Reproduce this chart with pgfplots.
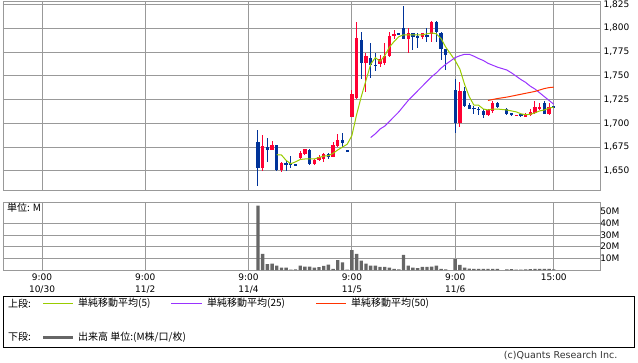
\documentclass[border=0pt]{standalone}
\usepackage{pgfplots}
\pgfplotsset{compat=1.18}
\usepackage{pgfplotstable}
\usepackage{fontspec}
\setmainfont{DejaVu Sans}
\newfontfamily\jp{Noto Sans CJK JP}
\definecolor{cup}{HTML}{FF0033}
\definecolor{cdn}{HTML}{003399}
\definecolor{mafivec}{HTML}{99CC00}
\definecolor{matwfc}{HTML}{9933FF}
\definecolor{mafifc}{HTML}{FF3300}
\definecolor{gridc}{HTML}{999999}
\definecolor{volc}{HTML}{666666}

\pgfplotstableread{
i o h l c
47 1653.4 1687.7 1650 1676.5
49 1672.3 1681.4 1672 1677.2
51 1651 1659 1649 1658.7
55 1664 1671 1663 1669
56 1667.4 1673 1666.7 1673
58 1657 1662 1656.5 1661.5
59 1661 1666.7 1660 1665
60 1663 1669 1659.6 1667.8
62 1665 1680.7 1665 1677
63 1676.5 1688.4 1675.5 1682.5
66 1707 1735 1707 1730.8
67 1727 1806.4 1725.2 1790
69 1763.7 1774 1733 1770.7
72 1762 1772 1759 1768
73 1763 1784 1761 1770.7
74 1770.7 1796 1770 1791.7
75 1791.7 1798 1789 1793.5
78 1788.4 1800 1774 1794.5
81 1790.3 1795 1788.4 1794.5
83 1793.5 1807.6 1785 1806.9
89 1700 1743.7 1696.5 1734
95 1708.7 1714.7 1707.6 1714
96 1713 1723.8 1710.5 1721
101 1708.5 1709 1708 1708.7
103 1707 1710.5 1706.3 1709.8
104 1709 1714.7 1708 1712.3
105 1710.5 1723.8 1710 1717.5
106 1714.7 1721.7 1713.6 1717.5
108 1709.8 1721.6 1708.7 1717.5
}\up

\pgfplotstableread{
i o h l c
46 1680 1693 1634.5 1653.4
48 1675 1685 1659 1672.3
50 1677 1677 1649.6 1651
52 1658 1660 1650 1657
53 1657.5 1666 1653 1657
54 1657 1657.5 1655 1655.7
57 1672 1673 1655.7 1657
61 1667.8 1669 1662 1665
64 1682.5 1690 1675.5 1679.7
65 1671 1671 1671 1671
68 1787.5 1796 1746.6 1763.7
70 1769 1784 1748 1761
71 1761.5 1774 1755 1760
76 1794.5 1795 1793 1793.5
77 1800 1823.7 1788.4 1788.4
79 1794.5 1795 1776.7 1790.3
80 1791.7 1795 1779 1790.3
82 1792.8 1800 1785 1791
84 1806.9 1807.6 1785.7 1795.6
85 1795.2 1796.3 1766.5 1777.7
86 1778.6 1778.6 1755.9 1771.8
88 1735 1747 1689.5 1700
90 1734 1738.5 1717.5 1718.5
91 1719 1721.6 1714.7 1714.7
92 1716.4 1718 1709.8 1714.7
93 1715 1717.5 1708.7 1714.5
94 1713.3 1714.7 1706 1708.7
97 1721 1722.7 1716.4 1717.5
99 1715.4 1716.4 1708.7 1709.4
100 1710.5 1711 1707.6 1708.7
102 1709 1709.5 1707 1708.5
107 1721 1723.8 1709.5 1709.8
109 1717.5 1718 1716.8 1716.8
}\down

\pgfplotstableread{
i v
50 1667
51 1666.7
52 1661
53 1657.5
54 1659.5
55 1662
56 1662.5
57 1662.5
58 1662.5
59 1664
60 1665.5
61 1666
62 1668.5
63 1672
64 1675
65 1678
66 1687
67 1709
68 1728
69 1745
70 1762
71 1769
72 1765
73 1771
74 1780
75 1786
76 1791
77 1793
78 1793
79 1793
80 1793
81 1793
82 1794
83 1795
84 1794
85 1789
86 1780
88 1766
89 1757
90 1741
91 1728
92 1719
93 1719
94 1715
95 1714
96 1715
97 1715
99 1714
100 1713
101 1712
102 1710
103 1709
104 1709.5
105 1711
106 1713
107 1714
108 1716
109 1717
}\mafive

\pgfplotstableread{
i v
70 1685
71 1689
72 1694
73 1697
74 1702
75 1707
76 1712
77 1718
78 1724
79 1729
80 1734
81 1739
82 1744
83 1749
84 1753
85 1758
86 1762
88 1769
89 1771
90 1772.5
91 1772.5
92 1770.5
93 1768
94 1766
95 1763
96 1761
97 1759
99 1756
100 1753
101 1749.5
102 1746
103 1743
104 1739
105 1736
106 1732
107 1728
108 1724
109 1720
}\matwentyfive

\pgfplotstableread{
i v
95 1724
96 1725
97 1726
99 1727.5
100 1728.5
101 1729.5
102 1730.5
103 1731.5
104 1732.5
105 1733.5
106 1735
107 1736.5
108 1737.5
109 1738
}\mafifty

\pgfplotstableread{
i v
46 55
47 13.7
48 5.1
49 5.4
50 3.7
51 2
52 2
53 0.3
54 0.5
55 3.7
56 2.8
57 2.8
58 2
59 2.5
60 3.5
61 4.5
62 1
63 8.5
64 6.5
65 0.3
66 17
67 13.7
68 8
69 5.4
70 3.7
71 3.7
72 2.6
73 2.6
74 2
75 0.9
76 0.5
77 13
78 3.7
79 2
80 1.7
81 2.6
82 2.6
83 2.9
84 3.7
85 0.9
86 0.5
88 9.4
89 4.3
90 2
91 1.2
92 1
93 1
94 1
95 1
96 1
97 1
99 0.6
100 0.8
101 0.4
102 0.4
103 0.6
104 0.8
105 1
106 1
107 1
108 1
109 0.5
}\vol

\pgfplotsset{
  panel/.style={
    scale only axis, anchor=north west, width=597pt,
    xmin=-8.31, xmax=118.85,
    axis line style={gridc, line width=0.8pt},
    xtick={0,22,44,66,88,109},
    grid=major, major grid style={gridc, line width=0.8pt},
    major tick length=0pt,
    yticklabel pos=right,
    tick label style={font=\fontsize{9}{12}\selectfont},
    /pgf/number format/1000 sep={,},
    /pgf/number format/assume math mode=true,
    clip=true,
  },
  wick/.style={draw=none, mark=none, forget plot,
    error bars/.cd, y dir=both, y explicit, error mark=none,
    error bar style={draw=#1, line width=1pt}},
  body/.style={draw=none, mark=none, forget plot,
    error bars/.cd, y dir=both, y explicit, error mark=none,
    error bar style={draw=#1, line width=3.3pt}},
}

\begin{document}
\begin{tikzpicture}
\path[use as bounding box] (0pt,0pt) rectangle (638pt,-362pt);

\begin{axis}[panel, at={(3pt,-1pt)}, height=189pt,
  ymin=1629.9, ymax=1828.5,
  ytick={1650,1675,...,1825},
  xticklabels={},
]
\addplot[wick=cup] table[x=i, y expr={(\thisrow{h}+\thisrow{l})/2}, y error expr={max((\thisrow{h}-\thisrow{l})/2,0.4)}] {\up};
\addplot[wick=cdn] table[x=i, y expr={(\thisrow{h}+\thisrow{l})/2}, y error expr={max((\thisrow{h}-\thisrow{l})/2,0.4)}] {\down};
\addplot[body=cup] table[x=i, y expr={(\thisrow{o}+\thisrow{c})/2}, y error expr={max(abs(\thisrow{c}-\thisrow{o})/2,0.55)}] {\up};
\addplot[body=cdn] table[x=i, y expr={(\thisrow{o}+\thisrow{c})/2}, y error expr={max(abs(\thisrow{c}-\thisrow{o})/2,0.55)}] {\down};
\addplot[draw=mafivec, line width=1pt, mark=none] table[x=i, y=v] {\mafive};
\addplot[draw=matwfc, line width=1pt, mark=none] table[x=i, y=v] {\matwentyfive};
\addplot[draw=mafifc, line width=1pt, mark=none] table[x=i, y=v] {\mafifty};
\end{axis}

\begin{axis}[panel, at={(3pt,-202pt)}, height=68pt,
  ymin=0, ymax=58.2,
  ytick={10,20,30,40},
  yticklabels={10M,20M,30M,40M},
  extra y ticks={50}, extra y tick labels={50M},
  extra y tick style={grid=none},
  yticklabel style={anchor=east, xshift=23pt},
  xticklabels={{9:00\\10/30},{9:00\\11/2},{9:00\\11/4},{9:00\\11/5},{9:00\\11/6},{15:00}},
  xticklabel style={align=center},
]
\addplot[ybar, bar width=3.4pt, bar shift=0pt, fill=volc, draw=none] table[x=i, y=v] {\vol};
\end{axis}

\node[anchor=west, inner sep=0pt, font=\jp\fontsize{10}{12}\selectfont] at (7pt,-208pt) {単位: M};

\draw[black, line width=0.8pt] (3.5pt,-296.5pt) rectangle (634pt,-347pt);
\fill[mafivec] (43pt,-302.7pt) rectangle (73pt,-304.3pt);
\fill[matwfc] (171pt,-302.7pt) rectangle (202pt,-304.3pt);
\fill[mafifc] (316pt,-302.7pt) rectangle (346pt,-304.3pt);
\fill[volc] (43pt,-335.5pt) rectangle (73pt,-338.5pt);
\node[anchor=west, inner sep=0pt, font=\jp\fontsize{10}{12}\selectfont] at (8pt,-303.5pt) {上段:};
\node[anchor=west, inner sep=0pt, font=\jp\fontsize{10}{12}\selectfont] at (78pt,-303.5pt) {単純移動平均(5)};
\node[anchor=west, inner sep=0pt, font=\jp\fontsize{10}{12}\selectfont] at (207pt,-303.5pt) {単純移動平均(25)};
\node[anchor=west, inner sep=0pt, font=\jp\fontsize{10}{12}\selectfont] at (351pt,-303.5pt) {単純移動平均(50)};
\node[anchor=west, inner sep=0pt, font=\jp\fontsize{10}{12}\selectfont] at (8pt,-337pt) {下段:};
\node[anchor=west, inner sep=0pt, font=\jp\fontsize{10}{12}\selectfont] at (78pt,-337pt) {出来高 単位:(M株/口/枚)};
\node[anchor=east, inner sep=0pt, font=\fontsize{9.5}{12}\selectfont, text=black!80] at (617.5pt,-356pt) {(c)Quants Research Inc.};
\end{tikzpicture}
\end{document}
